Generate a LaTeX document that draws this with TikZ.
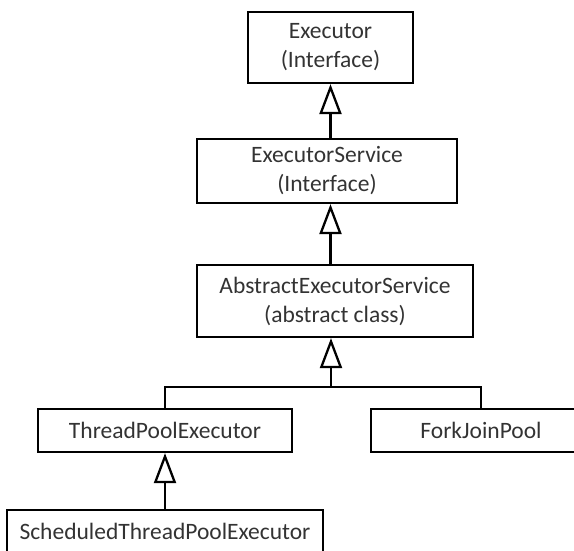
\documentclass[tikz,border=0pt]{standalone}
\usepackage{fontspec}
\setmainfont{Carlito}
\usepackage{tikz}
\usetikzlibrary{arrows.meta}
\tikzstyle{classbox} = [rectangle, draw=black, line width=2.3pt, text=black!80, align=center, inner sep=0pt, font=\fontsize{23.5}{29}\selectfont]
\tikzstyle{arrow} = [line width=2.3pt, -{Triangle[open, length=30pt, width=22pt]}]
\tikzstyle{link} = [line width=2.3pt]

\begin{document}
\begin{tikzpicture}[x=1pt, y=-1pt]
  \useasboundingbox (0,0) rectangle (574,551);
  \clip (0,0) rectangle (574,551);
  \node (exec)[classbox, minimum width=165pt, minimum height=71pt] at (330.5,47.5) {Executor\\(Interface)};
  \node (svc)[classbox, minimum width=260pt, minimum height=64pt] at (327,171) {ExecutorService\\(Interface)};
  \node (aes)[classbox, minimum width=276pt, minimum height=72pt] at (335,301) {AbstractExecutorService\\(abstract class)};
  \node (tpe)[classbox, minimum width=254pt, minimum height=43pt] at (165,430.5) {ThreadPoolExecutor};
  \node (fjp)[classbox, minimum width=220pt, minimum height=43pt] at (481,430.5) {ForkJoinPool};
  \node (stpe)[classbox, minimum width=316pt, minimum height=43pt] at (165,531.5) {ScheduledThreadPoolExecutor};
  \coordinate (bar) at (331,387);
  \draw [arrow] (svc.north -| exec.south) -- (exec.south);
  \draw [arrow] (aes.north -| exec.south) -- (svc.south -| exec.south);
  \draw [arrow] (bar) -- (bar |- aes.south);
  \draw [link] (tpe.north) |- (bar) -| (fjp.north);
  \draw [arrow] (stpe.north) -- (tpe.south);
\end{tikzpicture}
\end{document}
